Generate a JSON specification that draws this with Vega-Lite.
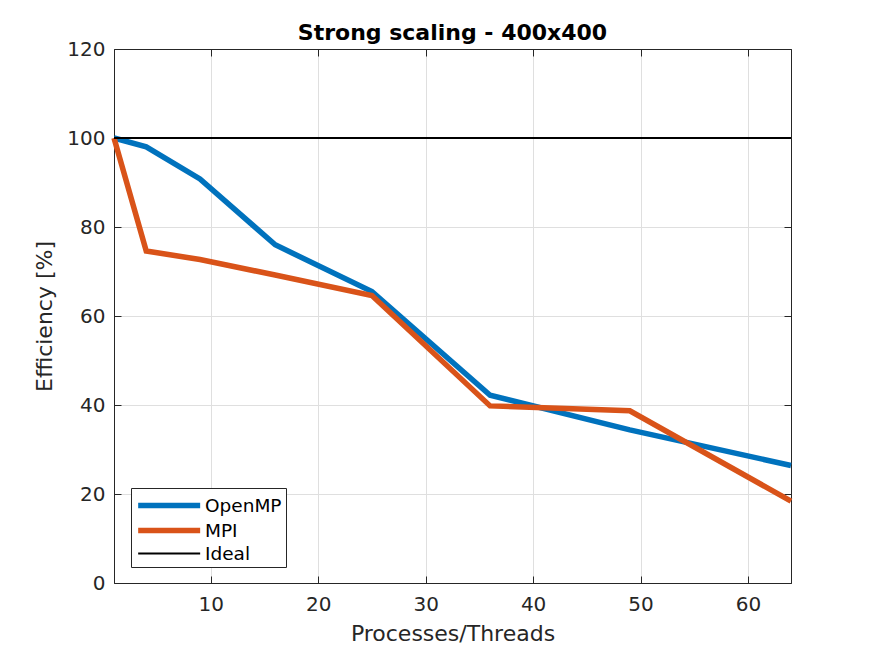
{
  "$schema": "https://vega.github.io/schema/vega-lite/v6.json",
  "width": 677,
  "height": 534,
  "autosize": "none",
  "padding": {"left": 114, "top": 49, "right": 84, "bottom": 73},
  "background": "white",
  "title": {
    "text": "Strong scaling - 400x400",
    "font": "DejaVu Sans",
    "fontSize": 22,
    "fontWeight": "bold",
    "color": "#000000",
    "baseline": "alphabetic",
    "offset": -23
  },
  "data": {
    "values": [
      {"n": 1, "eff": 100, "series": "OpenMP"},
      {"n": 4, "eff": 98.0, "series": "OpenMP"},
      {"n": 9, "eff": 90.8, "series": "OpenMP"},
      {"n": 16, "eff": 76.0, "series": "OpenMP"},
      {"n": 25, "eff": 65.5, "series": "OpenMP"},
      {"n": 36, "eff": 42.2, "series": "OpenMP"},
      {"n": 49, "eff": 34.4, "series": "OpenMP"},
      {"n": 64, "eff": 26.4, "series": "OpenMP"},
      {"n": 1, "eff": 100, "series": "MPI"},
      {"n": 4, "eff": 74.6, "series": "MPI"},
      {"n": 9, "eff": 72.7, "series": "MPI"},
      {"n": 16, "eff": 69.2, "series": "MPI"},
      {"n": 25, "eff": 64.6, "series": "MPI"},
      {"n": 36, "eff": 39.8, "series": "MPI"},
      {"n": 49, "eff": 38.7, "series": "MPI"},
      {"n": 64, "eff": 18.4, "series": "MPI"},
      {"n": 1, "eff": 100, "series": "Ideal"},
      {"n": 64, "eff": 100, "series": "Ideal"}
    ]
  },
  "layer": [
    {
      "mark": {"type": "line", "strokeCap": "butt", "strokeJoin": "miter"},
      "encoding": {
        "x": {
          "field": "n",
          "type": "quantitative",
          "scale": {"domain": [1, 64], "nice": false, "zero": false},
          "axis": {
            "values": [10, 20, 30, 40, 50, 60],
            "title": "Processes/Threads",
            "grid": true
          }
        },
        "y": {
          "field": "eff",
          "type": "quantitative",
          "scale": {"domain": [0, 120], "nice": false},
          "axis": {
            "values": [0, 20, 40, 60, 80, 100, 120],
            "title": "Efficiency [%]",
            "grid": true
          }
        },
        "color": {
          "field": "series",
          "type": "nominal",
          "scale": {
            "domain": ["OpenMP", "MPI", "Ideal"],
            "range": ["#0072BD", "#D95319", "#000000"]
          },
          "legend": {"title": null}
        },
        "strokeWidth": {
          "field": "series",
          "type": "nominal",
          "scale": {
            "type": "ordinal",
            "domain": ["OpenMP", "MPI", "Ideal"],
            "range": [5.5, 5.5, 2]
          },
          "legend": {"title": null}
        }
      }
    },
    {
      "mark": {"type": "point", "opacity": 0},
      "encoding": {
        "x": {
          "field": "n",
          "type": "quantitative",
          "axis": {
            "orient": "top",
            "values": [10, 20, 30, 40, 50, 60],
            "labels": false,
            "title": null,
            "grid": false
          }
        },
        "y": {
          "field": "eff",
          "type": "quantitative",
          "axis": {
            "orient": "right",
            "values": [0, 20, 40, 60, 80, 100, 120],
            "labels": false,
            "title": null,
            "grid": false
          }
        }
      }
    }
  ],
  "resolve": {"axis": {"x": "independent", "y": "independent"}},
  "config": {
    "view": {"stroke": "#262626", "strokeWidth": 1},
    "axis": {
      "domainColor": "#262626",
      "tickColor": "#262626",
      "tickSize": -7,
      "labelFont": "DejaVu Sans",
      "labelFontSize": 20,
      "labelColor": "#262626",
      "titleFont": "DejaVu Sans",
      "titleFontSize": 22,
      "titleFontWeight": "normal",
      "titleColor": "#262626",
      "gridColor": "#dfdfdf",
      "gridWidth": 1
    },
    "axisX": {"labelPadding": 18, "titlePadding": 9},
    "axisY": {"labelPadding": 16, "titlePadding": 10},
    "legend": {
      "orient": "none",
      "legendX": 17,
      "legendY": 439,
      "fillColor": "white",
      "strokeColor": "#262626",
      "padding": 4,
      "symbolType": "M-1,0H5",
      "symbolSize": 427,
      "labelFont": "DejaVu Sans",
      "labelFontSize": 18.5,
      "labelColor": "#000000",
      "labelOffset": 43,
      "rowPadding": -1
    }
  }
}
